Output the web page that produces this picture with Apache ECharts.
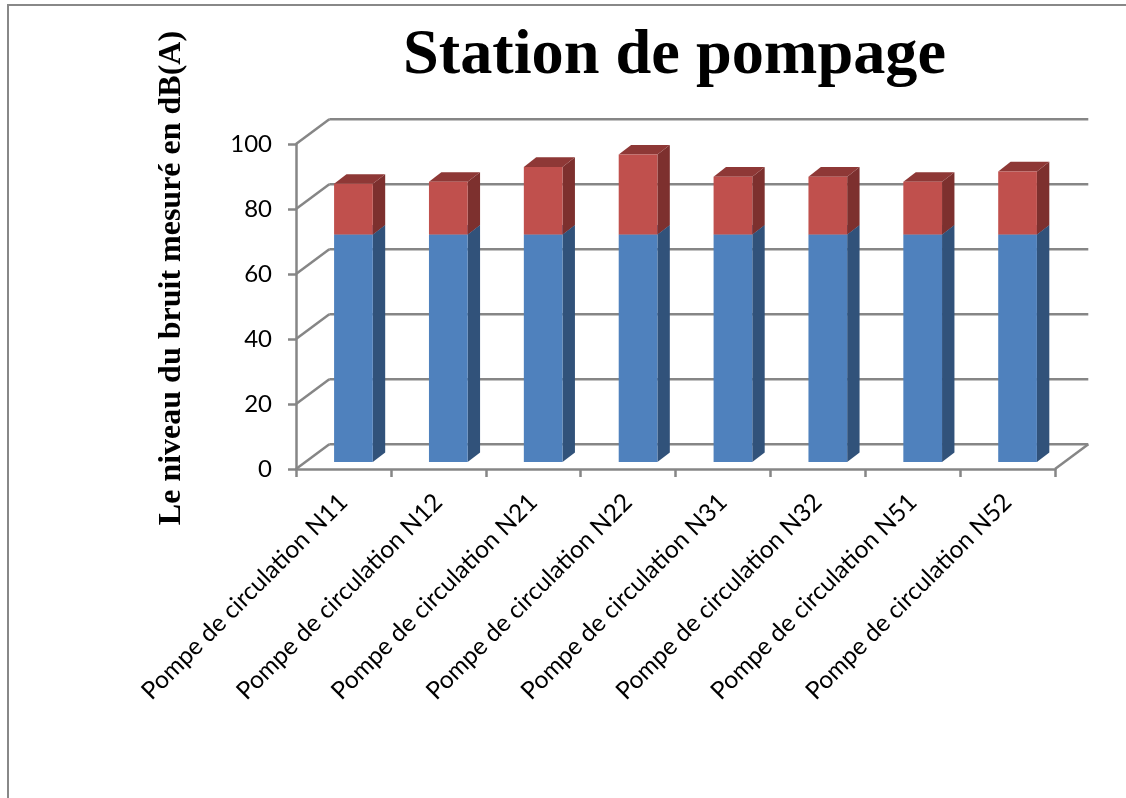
<!DOCTYPE html>
<html>
<head>
<meta charset="utf-8">
<title>Station de pompage</title>
<script src="https://cdn.jsdelivr.net/npm/echarts@6/dist/echarts.min.js"></script>
<style>
  html, body { margin: 0; padding: 0; background: #fff; }
  #main { width: 1126px; height: 798px; }
</style>
</head>
<body>
<div id="main"></div>
<script>
// valeurs
var categories = ['Pompe de circulation N11', 'Pompe de circulation N12', 'Pompe de circulation N21', 'Pompe de circulation N22',
  'Pompe de circulation N31', 'Pompe de circulation N32', 'Pompe de circulation N51', 'Pompe de circulation N52']
var blueValues = [70, 70, 70, 70, 70, 70, 70, 70]
var redValues = [15.6, 16.2, 20.8, 24.6, 17.8, 17.8, 16.2, 19.4]
var yTicks = [0, 20, 40, 60, 80, 100]

// decalages de la fausse 3D (px)
var WALL_DX = 33.3, WALL_DY = -24.7
var FLOOR_DX = 10, FLOOR_DY = -7
var DEPTH_DX = 12.4, DEPTH_DY = -9.6
var BAR_RATIO = 0.408
var GRID_COLOR = '#868686'

var myChart = echarts.init(document.getElementById('main'))

function poly(points, color) {
  return { type: 'polygon', shape: { points: points }, style: { fill: color } }
}

function renderWall(params, api) {
  var cs = params.coordSys
  var y = api.coord([0, api.value(1)])[1]
  var xl = cs.x, xr = cs.x + cs.width
  var lineStyle = { stroke: GRID_COLOR, lineWidth: 2.5 }
  var children = [
    { type: 'line', shape: { x1: xl + WALL_DX, y1: y + WALL_DY, x2: xr + WALL_DX, y2: y + WALL_DY }, style: lineStyle },
    { type: 'line', shape: { x1: xl, y1: y, x2: xl + WALL_DX, y2: y + WALL_DY }, style: lineStyle }
  ]
  // le sol a aussi son bord droit
  if (api.value(1) === 0) {
    children.push({ type: 'line', shape: { x1: xr, y1: y, x2: xr + WALL_DX, y2: y + WALL_DY }, style: lineStyle })
  }
  return { type: 'group', children: children }
}

function barRenderer(front, side, top) {
  return function (params, api) {
    var p0 = api.coord([api.value(0), api.value(1)])
    var p1 = api.coord([api.value(0), api.value(2)])
    var w = api.size([1, 0])[0] * BAR_RATIO
    var xl = p0[0] - w / 2 + FLOOR_DX, xr = xl + w
    var yb = p0[1] + FLOOR_DY, yt = p1[1] + FLOOR_DY
    return {
      type: 'group',
      children: [
        poly([[xr, yb], [xr + DEPTH_DX, yb + DEPTH_DY], [xr + DEPTH_DX, yt + DEPTH_DY], [xr, yt]], side),
        poly([[xl, yt], [xr, yt], [xr + DEPTH_DX, yt + DEPTH_DY], [xl + DEPTH_DX, yt + DEPTH_DY]], top),
        poly([[xl, yb], [xr, yb], [xr, yt], [xl, yt]], front)
      ]
    }
  }
}

var wallData = yTicks.map(function (v) { return [0, v] })
var blueData = blueValues.map(function (v, i) { return [i, 0, v] })
var redData = redValues.map(function (v, i) { return [i, blueValues[i], blueValues[i] + v] })

var option = {
  animation: false,
  backgroundColor: '#fff',
  title: {
    text: 'Station de pompage',
    left: 674.5,
    top: 19,
    textAlign: 'center',
    textStyle: { fontFamily: '"Liberation Serif"', fontWeight: 'bold', fontSize: 64.3, color: '#000' }
  },
  grid: { left: 296, right: 71, top: 144, bottom: 329, containLabel: false },
  xAxis: {
    type: 'category',
    data: categories,
    axisLine: { lineStyle: { color: GRID_COLOR, width: 2.5 } },
    axisTick: { show: true, length: 8, lineStyle: { color: GRID_COLOR, width: 2.5 } },
    splitLine: { show: false },
    axisLabel: {
      interval: 0,
      rotate: 45,
      margin: 29,
      fontFamily: 'Lato',
      fontSize: 24.5,
      color: '#000'
    }
  },
  yAxis: {
    type: 'value',
    min: 0,
    max: 100,
    interval: 20,
    axisLine: { show: true, lineStyle: { color: GRID_COLOR, width: 2.5 } },
    axisTick: { show: true, length: 8, lineStyle: { color: GRID_COLOR, width: 2.5 } },
    splitLine: { show: false },
    axisLabel: { margin: 24, fontFamily: 'Lato', fontSize: 24, color: '#000' }
  },
  graphic: [
    { type: 'line', silent: true, shape: { x1: 7, y1: 5, x2: 1126, y2: 5 }, style: { stroke: '#888', lineWidth: 2 } },
    { type: 'line', silent: true, shape: { x1: 8, y1: 5, x2: 8, y2: 798 }, style: { stroke: '#888', lineWidth: 2 } },
    {
      type: 'text',
      x: 172,
      y: 278,
      rotation: Math.PI / 2,
      style: {
        text: 'Le niveau du bruit mesuré en dB(A)',
        font: 'bold 32px "Liberation Serif"',
        fill: '#000',
        textAlign: 'center',
        textVerticalAlign: 'middle'
      }
    }
  ],
  series: [
    { type: 'custom', name: 'murs', renderItem: renderWall, data: wallData, encode: { x: 0, y: 1 }, clip: false, silent: true, z: 1 },
    { type: 'custom', name: 'bleu', renderItem: barRenderer('#4f81bd', '#31527a', '#3a6190'), data: blueData, encode: { x: 0, y: [1, 2] }, clip: false, silent: true, z: 3 },
    { type: 'custom', name: 'rouge', renderItem: barRenderer('#c0504d', '#7d302e', '#8e3836'), data: redData, encode: { x: 0, y: [1, 2] }, clip: false, silent: true, z: 4 }
  ]
}

option.title.left = 669.5
myChart.setOption(option)
</script>
</body>
</html>
